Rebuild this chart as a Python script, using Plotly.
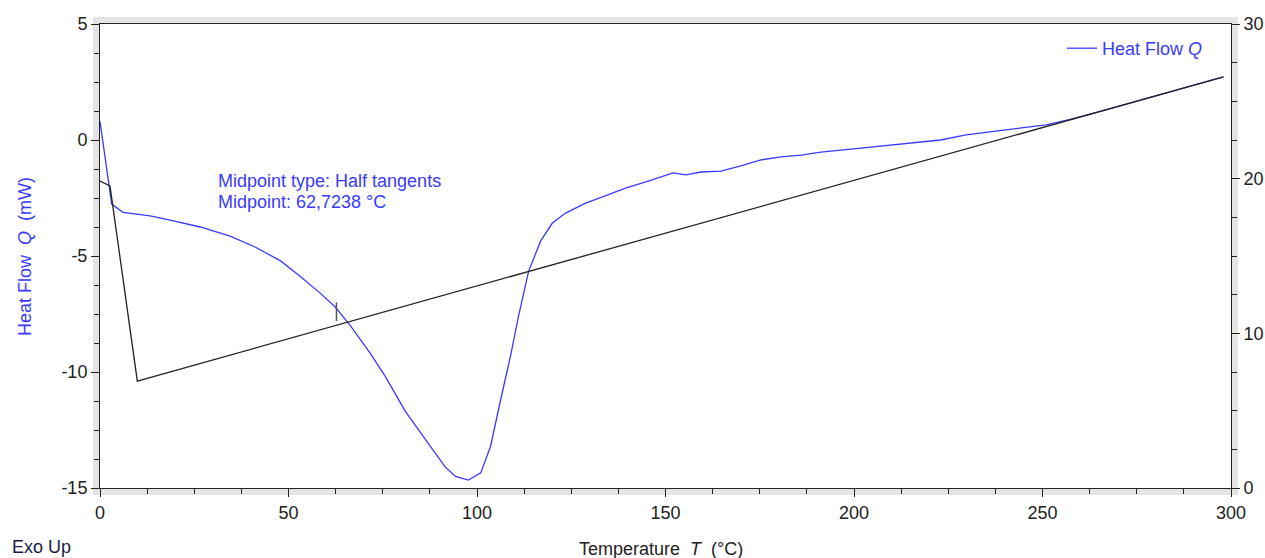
import plotly.graph_objects as go

# ---- data ----
heat_T = [0, 3.1, 6.1, 9.3, 13.3, 18.6, 26.6, 34.5, 41, 47.8, 53, 58.4, 62.4, 66.4,
          71.7, 75.7, 81, 86.3, 91.6, 94.3, 97.7, 101, 103.6, 106.2, 108.9, 111,
          113.7, 116.9, 120, 123.5, 128.8, 134, 139.4, 144.8, 148.7, 152, 155.4,
          159.4, 164.7, 170, 175.3, 180.6, 186, 191.2, 199.2, 207, 215, 223, 229.7,
          239, 244.4, 251, 257.6, 265.6, 278.9, 289.5, 298]
heat_Q = [0.8, -2.76, -3.12, -3.2, -3.27, -3.45, -3.75, -4.14, -4.6, -5.2, -5.86,
          -6.6, -7.2, -8.0, -9.2, -10.2, -11.7, -12.9, -14.1, -14.5, -14.66, -14.35,
          -13.2, -11.25, -9.3, -7.6, -5.65, -4.35, -3.58, -3.15, -2.72, -2.41, -2.07,
          -1.81, -1.6, -1.42, -1.5, -1.38, -1.34, -1.12, -0.86, -0.73, -0.65, -0.52,
          -0.39, -0.26, -0.13, 0.0, 0.22, 0.39, 0.52, 0.65, 0.9, 1.24, 1.84, 2.32, 2.72]

baseline_T = [0, 2.65, 9.9, 298]
baseline_Q = [-1.77, -1.98, -10.39, 2.72]

midpoint_T = [62.7238, 62.7238]
midpoint_Q = [-7.0, -7.8]

x_ticks = [0, 50, 100, 150, 200, 250, 300]
y_ticks = [-15, -10, -5, 0, 5]
y_ticklabels = ["-15", "-10", "-5", "0", "5"]
y2_ticks = [0, 10, 20, 30]

# ---- figure ----
W, H = 1265, 558
ML, MR, MT, MB = 100, 34, 24, 70
PW, PH = W - ML - MR, H - MT - MB

BLUE = "#3a3aff"
DARK = "#222222"
FONT = "Liberation Sans, Arial, sans-serif"

def px(xpix):
    return (xpix - ML) / PW

def py(ypix):
    return (H - MB - ypix) / PH

fig = go.Figure()
fig.add_trace(go.Scatter(x=heat_T, y=heat_Q, mode="lines", name="Heat Flow <i>Q</i>",
                         line=dict(color=BLUE, width=1.3)))
fig.add_trace(go.Scatter(x=baseline_T, y=baseline_Q, mode="lines", showlegend=False,
                         line=dict(color=DARK, width=1.3)))
fig.add_trace(go.Scatter(x=midpoint_T, y=midpoint_Q, mode="lines", showlegend=False,
                         line=dict(color="#555555", width=1.5)))
fig.add_trace(go.Scatter(x=[None], y=[None], yaxis="y2", showlegend=False, hoverinfo="skip"))

tickfont = dict(family=FONT, size=18, color=DARK)

fig.update_layout(
    width=W, height=H,
    margin=dict(l=ML, r=MR, t=MT, b=MB, pad=0, autoexpand=False),
    paper_bgcolor="white", plot_bgcolor="white",
    font=dict(family=FONT, size=18, color=DARK),
    xaxis=dict(range=[0, 300], tickvals=x_ticks, ticks="outside", ticklen=8,
               tickcolor=DARK, tickwidth=1, showline=True, linecolor=DARK, linewidth=1,
               mirror=True, showgrid=False, zeroline=False, tickfont=tickfont, automargin=False,
               minor=dict(dtick=12.5, ticks="outside", ticklen=5, tickcolor=DARK, showgrid=False)),
    yaxis=dict(range=[-15, 5], tickvals=y_ticks, ticktext=y_ticklabels, ticks="outside", ticklen=8,
               tickcolor=DARK, tickwidth=1, showline=True, linecolor=DARK, linewidth=1,
               showgrid=False, zeroline=False, tickfont=tickfont, automargin=False,
               minor=dict(dtick=1.25, ticks="outside", ticklen=5, tickcolor=DARK, showgrid=False)),
    yaxis2=dict(range=[0, 30], tickvals=y2_ticks, overlaying="y", side="right",
                ticks="outside", ticklen=8, tickcolor=DARK, tickwidth=1, showline=True,
                linecolor=DARK, linewidth=1, showgrid=False, zeroline=False, tickfont=tickfont,
                automargin=False,
                minor=dict(dtick=2.5, ticks="outside", ticklen=5, tickcolor=DARK, showgrid=False)),
    legend=dict(x=px(1062), y=py(30), xanchor="left", yanchor="top",
                bgcolor="rgba(0,0,0,0)", font=dict(family=FONT, size=18, color=BLUE),
                itemwidth=30, tracegroupgap=0),
    showlegend=True,
)

# 3D-like grey frame bands around the plot area
band = "#e4e4e4"
shapes = [
    dict(type="rect", xref="paper", yref="paper", xsizemode="pixel", xanchor=0,
         x0=-7, x1=0, y0=py(495), y1=py(17), fillcolor=band, line_width=0, layer="below"),
    dict(type="rect", xref="paper", yref="paper", xsizemode="pixel", xanchor=1,
         x0=0, x1=7, y0=py(495), y1=py(17), fillcolor=band, line_width=0, layer="below"),
    dict(type="rect", xref="paper", yref="paper", ysizemode="pixel", yanchor=1,
         y0=0, y1=7, x0=px(93), x1=px(1238), fillcolor=band, line_width=0, layer="below"),
    dict(type="rect", xref="paper", yref="paper", ysizemode="pixel", yanchor=0,
         y0=-7, y1=0, x0=px(93), x1=px(1238), fillcolor=band, line_width=0, layer="below"),
]
fig.update_layout(shapes=shapes)

ann = [
    dict(text="Midpoint type: Half tangents", x=px(216), y=py(181), xanchor="left",
         yanchor="middle", font=dict(color=BLUE, size=18)),
    dict(text="Midpoint: 62,7238 °C", x=px(216), y=py(202), xanchor="left",
         yanchor="middle", font=dict(color=BLUE, size=18)),
    dict(text="Heat Flow  <i>Q</i>  (mW)", x=px(25), y=py(256), textangle=-90,
         xanchor="center", yanchor="middle", font=dict(color=BLUE, size=18)),
    dict(text="Temperature  <i>T</i>  (°C)", x=px(661), y=py(549), xanchor="center",
         yanchor="middle", font=dict(color=DARK, size=18)),
    dict(text="Exo Up", x=px(10), y=py(547), xanchor="left", yanchor="middle",
         font=dict(color="#1a1a40", size=18)),
]
for a in ann:
    a.update(xref="paper", yref="paper", showarrow=False)
fig.update_layout(annotations=ann)

fig.write_html("out.html")
